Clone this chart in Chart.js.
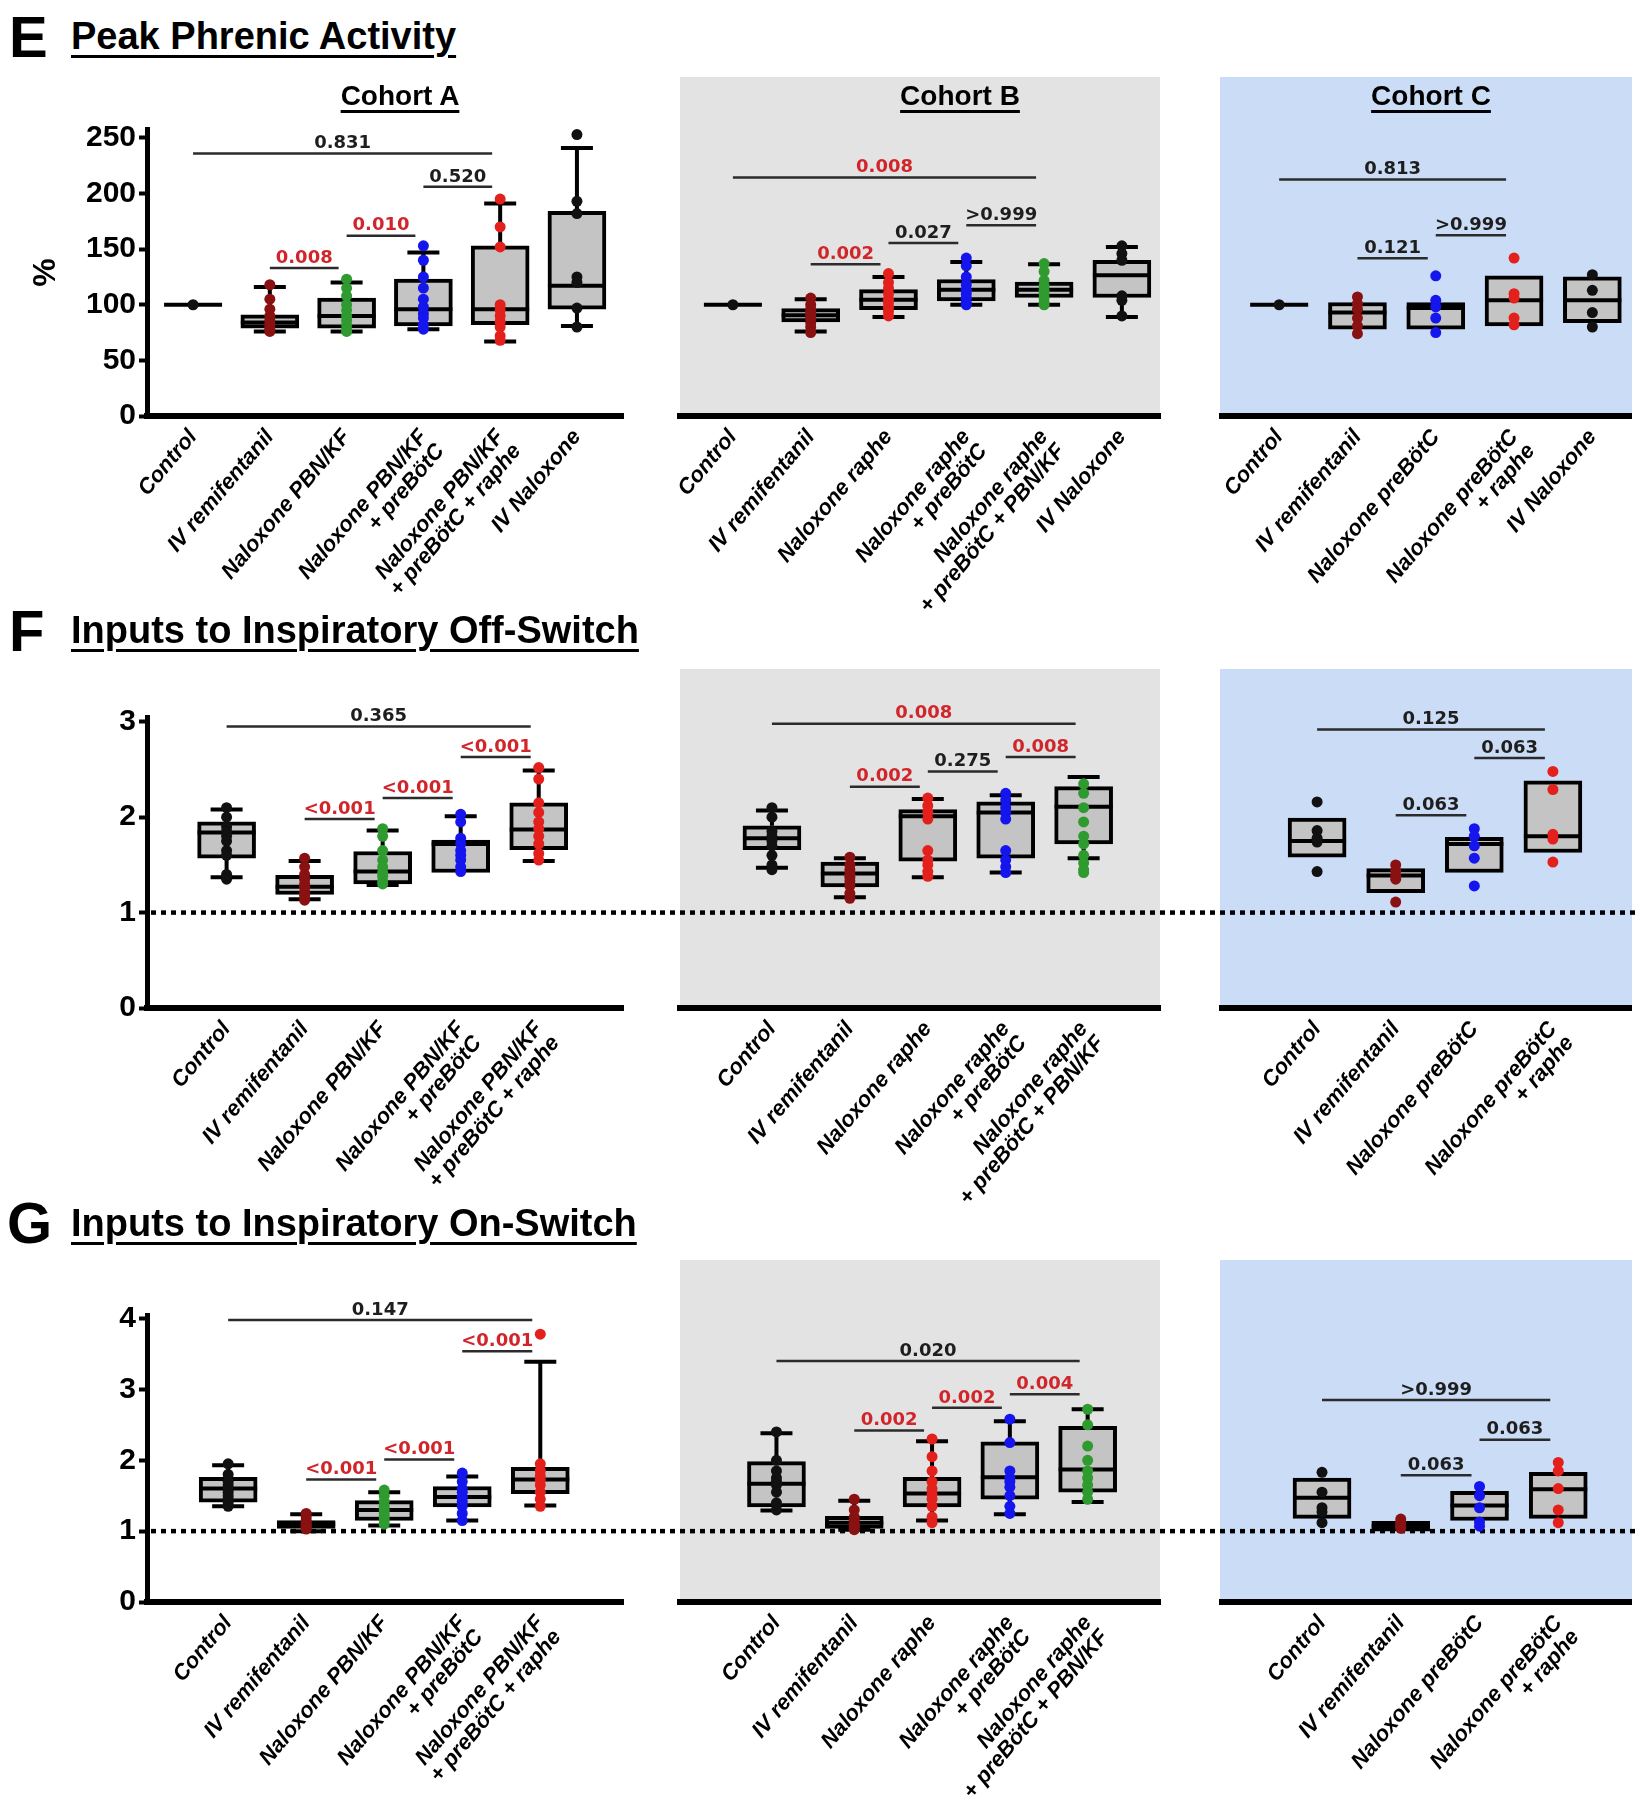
<!DOCTYPE html>
<html><head><meta charset="utf-8">
<script src="https://cdn.jsdelivr.net/npm/chart.js@4.4.0/dist/chart.umd.min.js"></script>
<style>
html,body{margin:0;padding:0;background:#fff;}
body{width:1637px;height:1800px;position:relative;overflow:hidden;font-family:"Liberation Sans",Arial,sans-serif;color:#000;}
canvas{position:absolute;z-index:2;}
.bg{position:absolute;z-index:1;}
.gray{background:#e3e3e3;}
.blue{background:#cbdcf7;}
.letter{position:absolute;font-weight:bold;font-size:58px;line-height:1;z-index:3;}
.title{position:absolute;font-weight:bold;font-size:38px;line-height:1;text-decoration:underline;text-decoration-thickness:3px;text-underline-offset:6px;z-index:3;white-space:nowrap;}
.cohort{position:absolute;font-weight:bold;font-size:28px;line-height:1;text-decoration:underline;text-decoration-thickness:3px;text-underline-offset:5px;z-index:3;transform:translateX(-50%);white-space:nowrap;}
</style>
</head><body>
<div class="letter" style="left:9px;top:8px;">E</div>
<div class="title" style="left:71px;top:17px;">Peak Phrenic Activity</div>
<div class="cohort" style="left:400px;top:82px;">Cohort A</div>
<div class="cohort" style="left:960px;top:82px;">Cohort B</div>
<div class="cohort" style="left:1431px;top:82px;">Cohort C</div>
<div class="letter" style="left:9px;top:602px;">F</div>
<div class="title" style="left:71px;top:611px;">Inputs to Inspiratory Off-Switch</div>
<div class="letter" style="left:7px;top:1194px;">G</div>
<div class="title" style="left:71px;top:1204px;">Inputs to Inspiratory On-Switch</div>

<div class="bg gray" style="left:680px;top:77px;width:480px;height:339px;"></div>
<div class="bg blue" style="left:1220px;top:77px;width:412px;height:339px;"></div>
<div class="bg gray" style="left:680px;top:669px;width:480px;height:339px;"></div>
<div class="bg blue" style="left:1220px;top:669px;width:412px;height:339px;"></div>
<div class="bg gray" style="left:680px;top:1260px;width:480px;height:342px;"></div>
<div class="bg blue" style="left:1220px;top:1260px;width:412px;height:342px;"></div>

<script>
// ---------- category labels ----------
const labelsA6 = ["Control","IV remifentanil","Naloxone PBN/KF",["Naloxone PBN/KF","+ preBötC"],["Naloxone PBN/KF","+ preBötC + raphe"],"IV Naloxone"];
const labelsB6 = ["Control","IV remifentanil","Naloxone raphe",["Naloxone raphe","+ preBötC"],["Naloxone raphe","+ preBötC + PBN/KF"],"IV Naloxone"];
const labelsC5 = ["Control","IV remifentanil","Naloxone preBötC",["Naloxone preBötC","+ raphe"],"IV Naloxone"];
const labelsA5 = labelsA6.slice(0,5);
const labelsB5 = labelsB6.slice(0,5);
const labelsC4 = labelsC5.slice(0,4);

// ---------- tick labels ----------
const ticksPeak = [0,50,100,150,200,250];
const ticksOff = [0,1,2,3];
const ticksOn = [0,1,2,3,4];

// ---------- E: Peak phrenic activity (%) ----------
const peakA_min = [100, 76, 76, 78, 67, 81];
const peakA_q1  = [100, 79, 79, 81, 82, 96];
const peakA_med = [100, 84, 90, 96, 96, 117];
const peakA_q3  = [100, 91, 106, 123, 153, 184];
const peakA_max = [100, 116, 120, 147, 191, 241];
const peakA_pts = [[100],[118,105,96,90,86,83,80,78,76],[123,115,108,100,95,90,86,82,78,76],[153,140,125,115,105,98,92,88,82,78],[195,170,152,100,95,90,85,80,72,68],[253,193,182,125,120,97,80]];
const peakA_sig = [[0,4,236,"0.831",0],[3,4,206,"0.520",0],[1,2,133,"0.008",1],[2,3,162,"0.010",1]];

const peakB_min = [100, 76, 89, 100, 100, 89];
const peakB_q1  = [100, 84.5, 95.6, 103.4, 106.5, 106.5];
const peakB_med = [100, 90.5, 104.5, 113.6, 113.6, 126.5];
const peakB_q3  = [100, 96.5, 113.6, 122.7, 120.5, 140];
const peakB_max = [100, 105, 125, 138.5, 136.5, 152];
const peakB_pts = [[100],[106,100,96,93,90,88,84,80,75],[128,120,115,110,105,102,98,94,90],[142,135,125,118,113,110,106,102,100],[137,130,122,117,113,110,106,102,100],[153,146,140,108,104,90]];
const peakB_sig = [[0,4,214.5,"0.008",1],[1,2,136.5,"0.002",1],[2,3,155.6,"0.027",0],[3,4,171.5,">0.999",0]];

const peakC_min = [100, 78, 78, 81, 84];
const peakC_q1  = [100, 78, 78, 81, 84];
const peakC_med = [100, 93, 97, 104, 104];
const peakC_q3  = [100, 102, 102, 126, 125];
const peakC_max = [100, 102, 102, 126, 125];
const peakC_pts = [[100],[107,101,96,88,81,74],[126,104,98,88,75],[142,110,106,88,82],[127,113,93,80]];
const peakC_sig = [[0,3,212.5,"0.813",0],[1,2,141.8,"0.121",0],[2,3,162.5,">0.999",0]];

// ---------- F: Inputs to inspiratory off-switch ----------
const offA_min = [1.37, 1.14, 1.29, 1.42, 1.54];
const offA_q1  = [1.57, 1.19, 1.30, 1.42, 1.66];
const offA_med = [1.84, 1.27, 1.43, 1.72, 1.87];
const offA_q3  = [1.95, 1.39, 1.64, 1.76, 2.15];
const offA_max = [2.08, 1.54, 1.86, 2.01, 2.49];
const offA_pts = [[2.1,2.0,1.9,1.85,1.8,1.75,1.65,1.6,1.4,1.35],[1.57,1.48,1.4,1.35,1.3,1.27,1.22,1.18,1.13],[1.88,1.8,1.65,1.55,1.48,1.42,1.38,1.33,1.3],[2.03,1.95,1.78,1.72,1.65,1.6,1.55,1.48,1.43],[2.52,2.4,2.15,2.05,1.95,1.88,1.8,1.72,1.62,1.55]];
const offA_sig = [[0,4,2.95,"0.365",0],[1,2,1.98,"<0.001",1],[2,3,2.2,"<0.001",1],[3,4,2.63,"<0.001",1]];

const offB_min = [1.47, 1.16, 1.37, 1.42, 1.57];
const offB_q1  = [1.66, 1.27, 1.54, 1.57, 1.72];
const offB_med = [1.78, 1.41, 2.01, 2.05, 2.11];
const offB_q3  = [1.91, 1.53, 2.08, 2.16, 2.32];
const offB_max = [2.07, 1.57, 2.19, 2.23, 2.42];
const offB_pts = [[2.1,2.0,1.85,1.8,1.75,1.7,1.6,1.5,1.45],[1.58,1.5,1.45,1.4,1.37,1.33,1.28,1.2,1.15],[2.2,2.12,2.05,1.98,1.65,1.55,1.5,1.43,1.38],[2.25,2.18,2.1,2.05,1.98,1.65,1.55,1.48,1.42],[2.35,2.25,2.1,1.95,1.8,1.72,1.6,1.52,1.45,1.42]];
const offB_sig = [[0,4,2.98,"0.008",1],[1,2,2.32,"0.002",1],[2,3,2.48,"0.275",0],[3,4,2.63,"0.008",1]];

const offC_min = [1.58, 1.21, 1.42, 1.63];
const offC_q1  = [1.58, 1.21, 1.42, 1.63];
const offC_med = [1.75, 1.39, 1.72, 1.80];
const offC_q3  = [1.99, 1.46, 1.79, 2.38];
const offC_max = [1.99, 1.46, 1.79, 2.38];
const offC_pts = [[2.16,1.86,1.78,1.74,1.43],[1.5,1.44,1.38,1.35,1.11],[1.88,1.8,1.7,1.57,1.28],[2.48,2.29,1.82,1.77,1.53]];
const offC_sig = [[0,3,2.92,"0.125",0],[1,2,2.02,"0.063",0],[2,3,2.62,"0.063",0]];

// ---------- G: Inputs to inspiratory on-switch ----------
const onA_min = [1.35, 1.00, 1.08, 1.15, 1.36];
const onA_q1  = [1.41, 1.04, 1.15, 1.34, 1.53];
const onA_med = [1.60, 1.10, 1.30, 1.48, 1.73];
const onA_q3  = [1.76, 1.15, 1.43, 1.63, 1.90];
const onA_max = [1.93, 1.24, 1.55, 1.77, 3.39];
const onA_pts = [[1.95,1.8,1.7,1.65,1.6,1.55,1.5,1.45,1.4,1.35],[1.25,1.2,1.15,1.12,1.1,1.08,1.05,1.03],[1.58,1.5,1.42,1.35,1.3,1.25,1.2,1.15,1.1],[1.82,1.7,1.6,1.55,1.48,1.42,1.35,1.25,1.15],[3.78,1.95,1.85,1.78,1.72,1.65,1.55,1.45,1.35]];
const onA_sig = [[0,4,3.98,"0.147",0],[1,2,1.73,"<0.001",1],[2,3,2.01,"<0.001",1],[3,4,3.54,"<0.001",1]];

const onB_min = [1.29, 1.02, 1.15, 1.24, 1.41];
const onB_q1  = [1.34, 1.04, 1.34, 1.45, 1.55];
const onB_med = [1.67, 1.12, 1.53, 1.76, 1.87];
const onB_q3  = [1.98, 1.21, 1.76, 2.26, 2.48];
const onB_max = [2.38, 1.43, 2.27, 2.55, 2.72];
const onB_pts = [[2.4,2.0,1.85,1.75,1.7,1.65,1.55,1.4,1.3],[1.45,1.3,1.2,1.15,1.1,1.08,1.05,1.02],[2.3,2.05,1.85,1.7,1.6,1.52,1.45,1.35,1.2,1.12],[2.58,2.25,1.85,1.75,1.7,1.62,1.5,1.35,1.25],[2.72,2.5,2.2,2.0,1.85,1.75,1.65,1.55,1.45]];
const onB_sig = [[0,4,3.40,"0.020",0],[1,2,2.42,"0.002",1],[2,3,2.74,"0.002",1],[3,4,2.93,"0.004",1]];

const onC_min = [1.18, 1.00, 1.15, 1.18];
const onC_q1  = [1.18, 1.00, 1.15, 1.18];
const onC_med = [1.47, 1.07, 1.36, 1.59];
const onC_q3  = [1.75, 1.14, 1.56, 1.83];
const onC_max = [1.75, 1.14, 1.56, 1.83];
const onC_pts = [[1.83,1.55,1.33,1.27,1.12],[1.17,1.12,1.1,1.07,1.04],[1.63,1.5,1.33,1.13,1.07],[1.97,1.85,1.6,1.3,1.12]];
const onC_sig = [[0,3,2.85,">0.999",0],[1,2,1.79,"0.063",0],[2,3,2.29,"0.063",0]];

// ---------- styling ----------
const BLACK='#111111', DKRED='#8a1111', GREEN='#2f9a2f', BLUE='#1515ee', RED='#e3201b';
const colorsA = [BLACK,DKRED,GREEN,BLUE,RED,BLACK];
const colorsB = [BLACK,DKRED,RED,BLUE,GREEN,BLACK];
const colorsC = [BLACK,DKRED,BLUE,RED,BLACK];

const rows = {
  E:{top:100,h:540,padTop:29,xh:224,yMax:258,ticks:ticksPeak,dotted:false},
  F:{top:680,h:545,padTop:37,xh:217,yMax:3.05,ticks:ticksOff,dotted:true},
  G:{top:1270,h:530,padTop:45,xh:198,yMax:4.05,ticks:ticksOn,dotted:true}
};
const cols = {
  A:{left:0,w:660,padL:0,padR:37,showY:true},
  B:{left:660,w:540,padL:20,padR:40,showY:false},
  C:{left:1200,w:437,padL:22,padR:5,showY:false}
};

function boxPanel(row, col, labels, mn, q1, md, q3, mx, pts, colors, sig, xMin, xMax, yTitle){
  const R = rows[row], C = cols[col];
  const cv = document.createElement('canvas');
  cv.width = C.w; cv.height = R.h;
  cv.style.left = C.left+'px'; cv.style.top = R.top+'px';
  document.body.appendChild(cv);

  const datasets = [{
    type:'bar',
    data: q1.map((v,i)=>({x:i, y:[v, q3[i]]})),
    backgroundColor:'#c4c4c4', borderColor:'#000', borderWidth:4, borderSkipped:false,
    barThickness:58, order:2
  }];
  pts.forEach((arr,i)=>{
    datasets.push({type:'scatter', data: arr.map(v=>({x:i,y:v})), pointRadius:5.5,
      pointBackgroundColor:colors[i], pointBorderWidth:0, order:1});
  });

  const extras = {
    id:'extras'+row+col,
    beforeDatasetsDraw(chart){
      if(!R.dotted) return;
      const ctx = chart.ctx, ys = chart.scales.y;
      const y = ys.getPixelForValue(1);
      ctx.save();
      ctx.strokeStyle='#000'; ctx.lineWidth=4.5; ctx.setLineDash([5,5]);
      ctx.beginPath();
      ctx.moveTo(C.showY ? chart.chartArea.left+4 : 0, y);
      ctx.lineTo(chart.width, y); ctx.stroke();
      ctx.restore();
    },
    afterDatasetDraw(chart, args){
      if(args.index !== 0) return;
      const ctx = chart.ctx, xs = chart.scales.x, ys = chart.scales.y;
      ctx.save();
      ctx.strokeStyle='#000'; ctx.lineWidth=4; ctx.lineCap='butt';
      for(let i=0;i<q1.length;i++){
        const cx = xs.getPixelForValue(i);
        const yq1 = ys.getPixelForValue(q1[i]), yq3 = ys.getPixelForValue(q3[i]);
        const ym = ys.getPixelForValue(md[i]);
        ctx.beginPath(); ctx.moveTo(cx-29, ym); ctx.lineTo(cx+29, ym); ctx.stroke();
        if(mx[i] > q3[i]){
          const yt = ys.getPixelForValue(mx[i]);
          ctx.beginPath(); ctx.moveTo(cx, yq3); ctx.lineTo(cx, yt);
          ctx.moveTo(cx-16, yt); ctx.lineTo(cx+16, yt); ctx.stroke();
        }
        if(mn[i] < q1[i]){
          const yb = ys.getPixelForValue(mn[i]);
          ctx.beginPath(); ctx.moveTo(cx, yq1); ctx.lineTo(cx, yb);
          ctx.moveTo(cx-16, yb); ctx.lineTo(cx+16, yb); ctx.stroke();
        }
      }
      ctx.restore();
    },
    afterDraw(chart){
      const ctx = chart.ctx, xs = chart.scales.x, ys = chart.scales.y;
      ctx.save();
      sig.forEach(([a,b,v,txt,red])=>{
        const x1 = xs.getPixelForValue(a), x2 = xs.getPixelForValue(b) - 8;
        const y = ys.getPixelForValue(v);
        ctx.strokeStyle='#2b2b2b'; ctx.lineWidth=2.5;
        ctx.beginPath(); ctx.moveTo(x1,y); ctx.lineTo(x2,y); ctx.stroke();
        ctx.fillStyle = red ? '#d0262b' : '#1e1e1e';
        ctx.font = 'bold 18px "DejaVu Sans"';
        ctx.textAlign='center'; ctx.textBaseline='bottom';
        ctx.fillText(txt, (x1+x2)/2, y-1);
      });
      ctx.restore();
    }
  };

  new Chart(cv, {
    type:'bar',
    data:{datasets},
    plugins:[extras],
    options:{
      responsive:false, animation:false, devicePixelRatio:1,
      layout:{padding:{left:C.padL, right:C.padR, top:R.padTop, bottom:0}},
      plugins:{legend:{display:false}, tooltip:{enabled:false}},
      scales:{
        x:{type:'linear', min:xMin, max:xMax, offset:false,
          afterBuildTicks:(s)=>{ s.ticks = labels.map((_,i)=>({value:i})); },
          afterFit:(s)=>{ s.height = R.xh; s.paddingLeft = 0; s.paddingRight = 0; },
          ticks:{autoSkip:false, minRotation:50, maxRotation:50, padding:2, color:'#000',
            font:{family:'"Liberation Sans", Arial, sans-serif', size:22, weight:'bold', style:'italic', lineHeight:1.0},
            callback:(v)=>labels[v]},
          grid:{display:false},
          border:{display:true, width:6, color:'#000'}
        },
        y:{type:'linear', min:0, max:R.yMax, display:C.showY,
          afterBuildTicks:(s)=>{ s.ticks = R.ticks.map(v=>({value:v})); },
          afterFit:(s)=>{ s.width = C.showY ? 147 : 0; s.paddingTop = 0; s.paddingBottom = 0; },
          ticks:{color:'#000', padding:3, font:{family:'"Liberation Sans", Arial, sans-serif', size:30, weight:'bold'}},
          grid:{display:true, drawOnChartArea:false, drawTicks:true, tickLength:8, tickWidth:4, color:'#000'},
          border:{display:true, width:5, color:'#000'},
          title:{display:!!yTitle, text:yTitle||'', color:'#000', padding:{top:27,bottom:0},
            font:{family:'"Liberation Sans", Arial, sans-serif', size:32, weight:'bold'}}
        }
      }
    }
  });
}

boxPanel('E','A',labelsA6,peakA_min,peakA_q1,peakA_med,peakA_q3,peakA_max,peakA_pts,colorsA,peakA_sig,-0.6,5.6,'%');
boxPanel('E','B',labelsB6,peakB_min,peakB_q1,peakB_med,peakB_q3,peakB_max,peakB_pts,colorsB,peakB_sig,-0.68,5.49);
boxPanel('E','C',labelsC5,peakC_min,peakC_q1,peakC_med,peakC_q3,peakC_max,peakC_pts,colorsC,peakC_sig,-0.73,4.5);
boxPanel('F','A',labelsA5,offA_min,offA_q1,offA_med,offA_q3,offA_max,offA_pts,colorsA,offA_sig,-1.02,5.08);
boxPanel('F','B',labelsB5,offB_min,offB_q1,offB_med,offB_q3,offB_max,offB_pts,colorsB,offB_sig,-1.18,4.98);
boxPanel('F','C',labelsC4,offC_min,offC_q1,offC_med,offC_q3,offC_max,offC_pts,colorsC,offC_sig,-1.21,4.0);
boxPanel('G','A',labelsA5,onA_min,onA_q1,onA_med,onA_q3,onA_max,onA_pts,colorsA,onA_sig,-1.04,5.06);
boxPanel('G','B',labelsB5,onB_min,onB_q1,onB_med,onB_q3,onB_max,onB_pts,colorsB,onB_sig,-1.24,4.93);
boxPanel('G','C',labelsC4,onC_min,onC_q1,onC_med,onC_q3,onC_max,onC_pts,colorsC,onC_sig,-1.27,3.93);
</script>
</body></html>
